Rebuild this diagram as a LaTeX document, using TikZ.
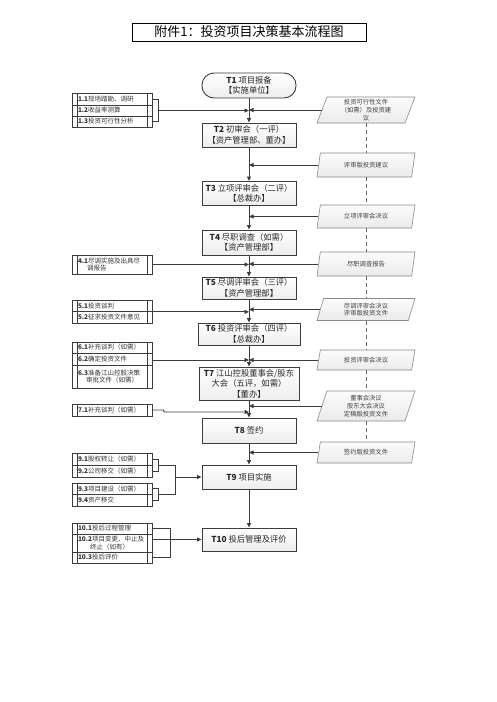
\documentclass[tikz,border=0pt]{standalone}
\usepackage{fontspec}
\setmainfont{Noto Sans CJK SC}
\usetikzlibrary{arrows.meta,shapes.geometric,calc}
\definecolor{lc}{HTML}{3C3C3C}
\definecolor{pb}{HTML}{8A8A8A}
\begin{document}
\begin{tikzpicture}[x=1pt,y=-1pt,
  mainbox/.style={draw=lc,line width=0.9pt,top color=white,bottom color=gray!14,minimum width=94pt,inner sep=1pt,align=center,font=\fontsize{8.3}{10.5}\selectfont,text=black!85},
  subrow/.style={draw=lc,line width=0.7pt,fill=white,minimum width=80pt,text width=68pt,inner xsep=6pt,inner ysep=0pt,align=left,font=\fontsize{6.5}{7.5}\selectfont,text=black!80,
    path picture={\draw[lc,line width=0.7pt] ([xshift=5pt]path picture bounding box.north west) -- ([xshift=5pt]path picture bounding box.south west) ([xshift=-5pt]path picture bounding box.north east) -- ([xshift=-5pt]path picture bounding box.south east);}},
  doc/.style={trapezium,trapezium left angle=67,trapezium right angle=113,trapezium stretches body,draw=pb,line width=0.6pt,top color=gray!3,bottom color=gray!16,minimum width=98pt,inner sep=1pt,align=center,font=\fontsize{6.3}{7.8}\selectfont,text=black!75},
  arr/.style={draw=lc,line width=0.9pt,-{Triangle[length=4.5pt,width=4pt]}},
  conn/.style={draw=lc,line width=0.9pt},
  dsh/.style={draw=gray!80!black,line width=0.9pt,dash pattern=on 4pt off 3pt}
]
\useasboundingbox[fill=white] (0,0) rectangle (496,702);

% title
\node[draw=black,line width=0.8pt,fill=white,minimum width=234pt,minimum height=18pt,inner sep=0pt,font=\fontsize{13}{15}\selectfont] (title) at (249,32) {附件1：投资项目决策基本流程图};

% main column
\node[mainbox,rounded corners=12pt,minimum height=25pt] (T1) at (249,85.5) {\textbf{T1} 项目报备\\【实施单位】};
\node[mainbox,minimum height=24pt] (T2) at (249,135) {\textbf{T2} 初审会（一评）\\【资产管理部、董办】};
\node[mainbox,minimum height=24pt] (T3) at (249,193.5) {\textbf{T3} 立项评审会（二评）\\【总裁办】};
\node[mainbox,minimum height=25pt] (T4) at (249,242.5) {\textbf{T4} 尽职调查（如需）\\【资产管理部】};
\node[mainbox,minimum height=22pt] (T5) at (249,288) {\textbf{T5} 尽调评审会（三评）\\【资产管理部】};
\node[mainbox,minimum height=22pt,minimum width=102pt] (T6) at (249,334) {\textbf{T6} 投资评审会（四评）\\【总裁办】};
\node[mainbox,minimum height=33pt,minimum width=100pt] (T7) at (249,383.5) {\textbf{T7} 江山控股董事会/股东\\大会（五评，如需）\\【董办】};
\node[mainbox,minimum height=25pt] (T8) at (249,430.5) {\textbf{T8} 签约};
\node[mainbox,minimum height=24pt] (T9) at (249,477) {\textbf{T9} 项目实施};
\node[mainbox,minimum height=23pt] (T10) at (249,539.5) {\textbf{T10} 投后管理及评价};

% left groups
\node[subrow,minimum height=12pt] (G11) at (112,99) {\textbf{1.1}现场踏勘、调研};
\node[subrow,minimum height=11pt] (G12) at (112,110.5) {\textbf{1.2}收益率测算};
\node[subrow,minimum height=11pt] (G13) at (112,121.5) {\textbf{1.3}投资可行性分析};
\node[subrow,minimum height=19pt] (G41) at (112,264.5) {\textbf{4.1}尽调实施及出具尽\\\hspace*{9pt}调报告};
\node[subrow,minimum height=11.5pt] (G51) at (112,305.75) {\textbf{5.1}投资谈判};
\node[subrow,minimum height=11.5pt] (G52) at (112,317.25) {\textbf{5.2}征求投资文件意见};
\node[subrow,minimum height=11pt] (G61) at (112,347.5) {\textbf{6.1}补充谈判（如需）};
\node[subrow,minimum height=12pt] (G62) at (112,359) {\textbf{6.2}确定投资文件};
\node[subrow,minimum height=23pt] (G63) at (112,376.5) {\textbf{6.3}准备江山控股决策\\\hspace*{8pt}审批文件（如需）};
\node[subrow,minimum height=12pt] (G71) at (112,410) {\textbf{7.1}补充谈判（如需）};
\node[subrow,minimum height=12pt] (G91) at (112,459) {\textbf{9.1}股权转让（如需）};
\node[subrow,minimum height=12pt] (G92) at (112,471) {\textbf{9.2}公司移交（如需）};
\node[subrow,minimum height=11.5pt] (G93) at (112,488.75) {\textbf{9.3}项目建设（如需）};
\node[subrow,minimum height=11.5pt] (G94) at (112,500.25) {\textbf{9.4}资产移交};
\node[subrow,minimum height=11pt] (G101) at (112,528.5) {\textbf{10.1}投后过程管理};
\node[subrow,minimum height=18pt] (G102) at (112,543) {\textbf{10.2}项目变更、中止及\\\hspace*{12pt}终止（如有）};
\node[subrow,minimum height=11pt] (G103) at (112,557.5) {\textbf{10.3}投后评价};

% right documents
\node[doc,minimum height=26pt] (P1) at (366,110) {投资可行性文件\\（如需）及投资建\\议};
\node[doc,minimum height=24pt] (P2) at (366,165) {评审版投资建议};
\node[doc,minimum height=23pt] (P3) at (366,216.5) {立项评审会决议};
\node[doc,minimum height=24pt] (P4) at (366,264) {尽职调查报告};
\node[doc,minimum height=22pt] (P5) at (366,309.5) {尽调评审会决议\\评审版投资文件};
\node[doc,minimum height=20pt] (P6) at (366,360) {投资评审会决议};
\node[doc,minimum height=30pt] (P7) at (366,406) {董事会决议\\股东大会决议\\定稿版投资文件};
\node[doc,minimum height=21pt] (P8) at (366,452.5) {签约版投资文件};

% dashed document line
\foreach \a/\b in {P1/P2,P2/P3,P3/P4,P4/P5,P5/P6,P6/P7,P7/P8}
  \draw[dsh] (\a.center |- \a.south) -- (\b.center |- \b.north);

% main flow
\foreach \a/\b in {T1/T2,T2/T3,T3/T4,T4/T5,T5/T6,T6/T7,T7/T8,T8/T9,T9/T10}
  \draw[arr] (\a) -- (\b);

% document inputs
\draw[arr] (P1.west) -- (P1.west -| T1.south);
\draw[arr] (P2.west) -- (P2.west -| T2.south);
\draw[arr] (P3.west) -- (P3.west -| T3.south);
\draw[arr] (P4.west) -- (P4.west -| T4.south);
\draw[arr] (P5.west) -- (P5.west -| T5.south);
\draw[arr] (P6.west) -- (P6.west -| T6.south);
\draw[arr] (P7.west) -- (P7.west -| T7.south);
\draw[arr] (P8.west) -- (P8.west -| T8.south);

% group inputs
\draw[conn] (G11.east) -- ++(6,0) |- (G13.east);
\draw[arr] ([xshift=6pt]G12.east) -- (G12.east -| T1.south);
\draw[arr] (G41.east) -- (G41.east -| T4.south);
\draw[arr] (G51.south east) -- (G51.south east -| T5.south);
\draw[arr] (G62.east |- P6.west) -- (P6.west -| T6.south);
\draw[arr] (G71.east) -- ++(11,0) -- ++(1,2) -- ($(G71.east -| T7.south)+(0,2)$);

\draw[conn] (G91.east) -- ++(6,0) |- (G92.east);
\draw[conn] (G93.east) -- ++(6,0) |- (G94.east);
\coordinate (J9a) at ($(G91.south east)+(23,0)$);
\coordinate (J9b) at ($(G93.south east)+(23,0)$);
\draw[conn] ([xshift=6pt]G91.south east) -- (J9a) -- (J9b) -- ([xshift=6pt]G93.south east);
\draw[arr] (J9a |- T9.west) -- (T9.west);

\draw[conn] (G101.east) -- ++(18,0) |- (G103.east);
\draw[arr] (T10.west -| G102.east) -- (T10.west);
\end{tikzpicture}
\end{document}
